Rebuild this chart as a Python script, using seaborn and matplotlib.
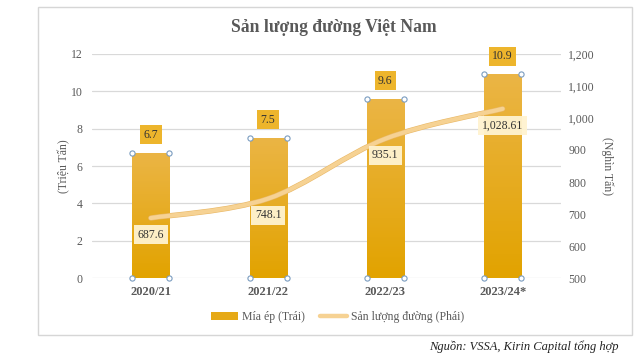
import numpy as np
import pandas as pd
import matplotlib.pyplot as plt
import seaborn as sns
import matplotlib.patheffects as pe
from matplotlib.path import Path
from matplotlib.patches import PathPatch, Patch, Rectangle
from matplotlib.lines import Line2D
from matplotlib.colors import LinearSegmentedColormap

# data
seasons = ["2020/21", "2021/22", "2022/23", "2023/24*"]
mia_ep = [6.7, 7.5, 9.6, 10.9]            # trieu tan (left)
san_luong = [687.6, 748.1, 935.1, 1028.61]  # nghin tan (right)
left_ticks = [0, 2, 4, 6, 8, 10, 12]
right_ticks = [500, 600, 700, 800, 900, 1000, 1100, 1200]

sns.set_theme(style="white")
plt.rcParams['font.family'] = ['Liberation Serif', 'DejaVu Serif']

GOLD = "#E6A916"
BEIGE = "#F6D293"
GRAY = "#595959"

fig = plt.figure(figsize=(6.4, 3.57), dpi=100)
ax = fig.add_axes([0.144, 0.221, 0.733, 0.628])

df = pd.DataFrame({"season": seasons, "mia": mia_ep})
sns.barplot(data=df, x="season", y="mia", ax=ax, color=GOLD, width=0.316,
            edgecolor="#8f9aa6", linewidth=0.7, saturation=1, zorder=2)
ax.set_ylim(0, 12)
ax.set_xlim(-0.5, 3.5)
ax.set_yticks(left_ticks)
ax.grid(axis="y", color="#d9d9d9", linewidth=0.9, zorder=0)
ax.set_axisbelow(True)
for s in ax.spines.values():
    s.set_visible(False)
ax.set_xlabel("")
ax.set_ylabel("(Triệu Tấn)", fontsize=8.5, color=GRAY, labelpad=0)
ax.tick_params(axis="y", labelsize=8.5, labelcolor=GRAY, length=0, pad=7)
ax.tick_params(axis="x", length=0, pad=6)
for t in ax.get_xticklabels():
    t.set_fontweight("bold")
    t.set_fontsize(9)
    t.set_color(GRAY)

# gradient fill, selection handles at bar corners, bar labels
grad = LinearSegmentedColormap.from_list("g", ["#E2A300", "#EBB545"])
for p, v in zip(ax.patches, mia_ep):
    x0, w, h = p.get_x(), p.get_width(), p.get_height()
    im = ax.imshow(np.linspace(0, 1, 100).reshape(-1, 1), cmap=grad, aspect="auto",
                   origin="lower", extent=(x0, x0 + w, 0, h), zorder=2.5)
    im.set_clip_path(p)
    ax.scatter([x0, x0 + w, x0, x0 + w], [0, 0, h, h], s=14, facecolor="white",
               edgecolor="#7a9cc0", linewidth=0.8, zorder=6, clip_on=False)
    ax.annotate(f"{v}", (x0 + w / 2, h), xytext=(0, 13), textcoords="offset points",
                ha="center", va="center", fontsize=8.5, color="#333333",
                bbox=dict(boxstyle="square,pad=0.3", fc="#EDB52C", ec="none"), zorder=7)
ax.set_xlim(-0.5, 3.5)
ax.set_ylim(0, 12)
ax.set_aspect("auto")

ax2 = ax.twinx()
ax2.set_ylim(500, 1200)
ax2.set_yticks(right_ticks)
ax2.set_yticklabels([f"{v:,}" for v in right_ticks])
for s in ax2.spines.values():
    s.set_visible(False)
ax2.tick_params(axis="y", labelsize=8.5, labelcolor=GRAY, length=0, pad=5)
ax2.set_ylabel("(Nghìn Tấn)", fontsize=8.5, color=GRAY, rotation=-90, labelpad=13)
ax2.grid(False)

# smoothed line (Catmull-Rom through data points)
xs = np.arange(len(san_luong), dtype=float)
ys = np.array(san_luong, dtype=float)
P = np.column_stack([xs, ys])
Pe = np.vstack([P[0], P, P[-1]])
verts = [P[0]]
codes = [Path.MOVETO]
for i in range(len(P) - 1):
    p0, p1, p2, p3 = Pe[i], Pe[i + 1], Pe[i + 2], Pe[i + 3]
    verts += [p1 + (p2 - p0) / 6, p2 - (p3 - p1) / 6, p2]
    codes += [Path.CURVE4] * 3
ax2.add_patch(PathPatch(Path(verts, codes), fc="none", ec=BEIGE, lw=3.0,
                        capstyle="round", zorder=4,
                        path_effects=[pe.Stroke(linewidth=3.8, foreground="#E9B866"),
                                      pe.Normal()]))
for x, v in zip(xs, san_luong):
    ax2.annotate(f"{v:,}", (x, v), xytext=(0, -12), textcoords="offset points",
                 ha="center", va="center", fontsize=8.5, color="#333333",
                 bbox=dict(boxstyle="square,pad=0.3", fc="#FFF3D0", ec="none", alpha=0.95),
                 zorder=7)

fig.text(0.522, 0.922, "Sản lượng đường Việt Nam", ha="center", va="center",
         fontsize=12.7, fontweight="bold", color=GRAY)

handles = [Patch(facecolor=GOLD, edgecolor="none"),
           Line2D([0], [0], color=BEIGE, lw=3.2)]
fig.legend(handles, ["Mía ép (Trái)", "Sản lượng đường (Phái)"], loc="center",
           bbox_to_anchor=(0.527, 0.112), ncol=2, frameon=False, fontsize=8.5,
           labelcolor=GRAY, handlelength=2.3, columnspacing=1.3, handletextpad=0.3)

# chart frame
fig.patches.append(Rectangle((38 / 640, 1 - 335 / 357), 594 / 640, 328 / 357,
                             transform=fig.transFigure, fill=False,
                             ec="#d6d6d6", lw=1.0))

fig.text(0.966, 0.028, "Nguồn: VSSA, Kirin Capital tổng hợp", ha="right",
         va="center", fontsize=9, style="italic", color="#222222")

fig.savefig("out.png", dpi=100)
